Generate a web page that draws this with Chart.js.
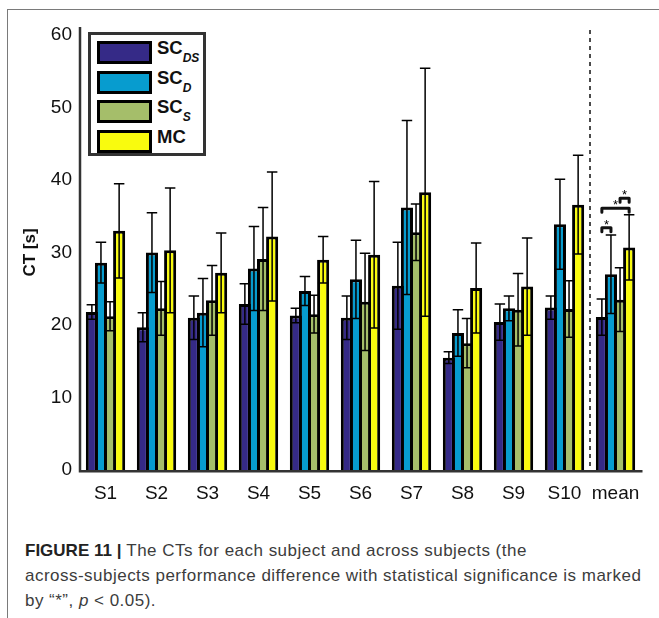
<!DOCTYPE html>
<html>
<head>
<meta charset="utf-8">
<script src="https://cdn.jsdelivr.net/npm/chart.js@4.4.1/dist/chart.umd.min.js"></script>
<style>
  html, body { margin: 0; padding: 0; background: #fff; }
  #wrap { position: relative; width: 659px; height: 618px; overflow: hidden; }
  #frame { position: absolute; left: 7px; top: 9px; width: 700px; height: 700px;
           border-left: 1.5px solid #7a7a7a; border-top: 1.5px solid #7a7a7a; }
  #chart { position: absolute; left: 0; top: 0; }
  #legend { position: absolute; left: 88px; top: 32px; width: 112px; height: 118px;
            border: 3px solid #333; background: #fff; }
  .row { position: absolute; left: 0; height: 23px; width: 112px; }
  .sw { position: absolute; left: 6px; top: 0; width: 49px; height: 17px; border: 3px solid #000; }
  .lab { position: absolute; left: 66px; top: -4px; line-height: 23px; white-space: nowrap;
         font: bold 18.5px "Liberation Sans", Arial, sans-serif; color: #111; }
  .lab sub { font: italic bold 12px "Liberation Sans", Arial, sans-serif; vertical-align: -8px; margin-left: 0; }
  #caption { position: absolute; left: 25px; top: 538px; white-space: nowrap;
             font: 17px "Liberation Sans", Arial, sans-serif; letter-spacing: 0.48px;
             line-height: 25px; color: #3c3c3c; }
  #caption b { color: #222; letter-spacing: 0; }
</style>
</head>
<body>
<div id="wrap">
  <div id="frame"></div>
  <canvas id="chart" width="659" height="520"></canvas>
  <div id="legend"></div>
  <div id="caption"><b>FIGURE 11 |</b> The CTs for each subject and across subjects (the<br>across-subjects performance difference with statistical significance is marked<br>by “*”, <i>p</i> &lt; 0.05).</div>
</div>
<script>
// Subjects plus the across-subject mean
const categories = ['S1', 'S2', 'S3', 'S4', 'S5', 'S6', 'S7', 'S8', 'S9', 'S10', 'mean'];

// Series names (base + subscript)
const seriesBase = ['SC', 'SC', 'SC', 'MC'];
const seriesSub  = ['DS', 'D', 'S', ''];

// Completion time (s): means
const ctSCDS = [21.8, 19.7, 21.0, 22.9, 21.3, 21.0, 25.4, 15.5, 20.4, 22.4, 21.1];
const ctSCD  = [28.6, 30.0, 21.7, 27.8, 24.7, 26.3, 36.2, 18.9, 22.3, 33.9, 27.0];
const ctSCS  = [21.2, 22.3, 23.4, 29.1, 21.5, 23.2, 32.8, 17.5, 22.1, 22.2, 23.5];
const ctMC   = [33.0, 30.3, 27.2, 32.2, 29.0, 29.7, 38.3, 25.1, 25.3, 36.6, 30.7];

// Completion time (s): standard deviations
const sdSCDS = [1.0, 2.0, 3.0, 2.8, 1.0, 3.0, 6.0, 0.8, 2.5, 1.6, 2.5];
const sdSCD  = [2.8, 5.5, 4.7, 5.8, 2.0, 5.4, 12.0, 3.2, 1.7, 6.2, 5.4];
const sdSCS  = [2.0, 3.7, 4.8, 7.1, 2.6, 6.7, 3.9, 3.4, 5.0, 3.9, 4.4];
const sdMC   = [6.5, 8.6, 5.5, 8.9, 3.2, 10.1, 17.1, 6.2, 6.7, 6.8, 4.5];

// Significant pairwise differences across subjects (series indices) and bracket heights (s)
const sigPairs  = [[0, 1], [0, 3], [2, 3]];
const sigLevels = [33.4, 36.1, 37.5];

const yTicks = [0, 10, 20, 30, 40, 50, 60];

const seriesColors = ['#352A87', '#079CCF', '#A5BE6A', '#F9FB0E'];
const means = [ctSCDS, ctSCD, ctSCS, ctMC];
const sds = [sdSCDS, sdSCD, sdSCS, sdMC];

const datasets = means.map((m, i) => ({
  label: seriesBase[i] + (seriesSub[i] ? '_' + seriesSub[i] : ''),
  data: m,
  sd: sds[i],
  backgroundColor: seriesColors[i],
  borderColor: '#000',
  borderWidth: 3,
  borderSkipped: 'start',
  categoryPercentage: 0.713,
  barPercentage: 1.33
}));

// HTML legend with subscripts
const legend = document.getElementById('legend');
seriesBase.forEach((b, i) => {
  const row = document.createElement('div');
  row.className = 'row';
  row.style.top = (6 + i * 29.5) + 'px';
  const sw = document.createElement('div');
  sw.className = 'sw';
  sw.style.background = seriesColors[i];
  const lab = document.createElement('div');
  lab.className = 'lab';
  lab.textContent = b;
  if (seriesSub[i]) {
    const s = document.createElement('sub');
    s.textContent = seriesSub[i];
    lab.appendChild(s);
  }
  row.appendChild(sw);
  row.appendChild(lab);
  legend.appendChild(row);
});

const overlay = {
  id: 'overlay',
  afterDatasetsDraw(chart) {
    const { ctx, chartArea: a, scales: { x, y } } = chart;
    ctx.save();
    // error bars (mean ± SD)
    ctx.strokeStyle = '#000';
    ctx.lineWidth = 1.5;
    chart.data.datasets.forEach((ds, di) => {
      const meta = chart.getDatasetMeta(di);
      meta.data.forEach((bar, j) => {
        const m = ds.data[j], s = ds.sd[j];
        const cx = bar.x;
        const half = bar.width / 2 - 0.8;
        const yTop = y.getPixelForValue(m + s);
        const yBot = y.getPixelForValue(m - s);
        ctx.beginPath();
        ctx.moveTo(cx, yTop); ctx.lineTo(cx, yBot);
        ctx.moveTo(cx - half, yTop); ctx.lineTo(cx + half, yTop);
        ctx.moveTo(cx - half, yBot); ctx.lineTo(cx + half, yBot);
        ctx.stroke();
      });
    });

    // separator before the across-subject mean
    const xSep = (x.getPixelForValue(categories.length - 2) + x.getPixelForValue(categories.length - 1)) / 2;
    ctx.setLineDash([4, 4]);
    ctx.lineWidth = 1.5;
    ctx.strokeStyle = '#111';
    ctx.beginPath();
    ctx.moveTo(xSep, 30); ctx.lineTo(xSep, a.bottom);
    ctx.stroke();
    ctx.setLineDash([]);

    // significance brackets on the mean group
    const last = categories.length - 1;
    ctx.lineWidth = 3;
    ctx.lineJoin = 'round';
    ctx.lineCap = 'round';
    ctx.fillStyle = '#000';
    ctx.font = '13px "Liberation Sans", Arial, sans-serif';
    ctx.textAlign = 'center';
    ctx.textBaseline = 'alphabetic';
    sigPairs.forEach(([p, q], k) => {
      const x1 = chart.getDatasetMeta(p).data[last].x;
      const x2 = chart.getDatasetMeta(q).data[last].x;
      const yb = y.getPixelForValue(sigLevels[k]);
      const leg = yb + 4;
      ctx.beginPath();
      ctx.moveTo(x1, leg); ctx.lineTo(x1, yb); ctx.lineTo(x2, yb); ctx.lineTo(x2, leg);
      ctx.stroke();
      ctx.fillText('*', (x1 + x2) / 2, yb + 1);
    });

    // axes
    ctx.lineCap = 'butt';
    ctx.strokeStyle = '#333';
    ctx.lineWidth = 2.5;
    ctx.beginPath();
    ctx.moveTo(a.left, 27); ctx.lineTo(a.left, a.bottom + 2.2);
    ctx.moveTo(a.left - 1.2, a.bottom + 1.2); ctx.lineTo(a.right + 1.5, a.bottom + 1.2);
    ctx.stroke();
    ctx.restore();
  }
};

new Chart(document.getElementById('chart'), {
  type: 'bar',
  data: { labels: categories, datasets },
  options: {
    responsive: false,
    animation: false,
    devicePixelRatio: 1,
    layout: { padding: { left: 0, top: 35, right: 18, bottom: 0 } },
    plugins: { legend: { display: false }, tooltip: { enabled: false } },
    scales: {
      x: {
        grid: { display: false, drawTicks: false },
        border: { display: false },
        ticks: { color: '#111', padding: 12, maxRotation: 0, minRotation: 0, autoSkip: false,
                 font: { family: 'Liberation Sans', size: 19 } },
        afterFit(s) { s.height = 50; }
      },
      y: {
        min: 0, max: 60,
        grid: { display: false, drawTicks: false },
        border: { display: false },
        afterBuildTicks(s) { s.ticks = yTicks.map(v => ({ value: v })); },
        ticks: { color: '#111', padding: 8, font: { family: 'Liberation Sans', size: 19 } },
        title: { display: true, text: 'CT [s]', color: '#111', padding: { top: 20 },
                 font: { family: 'Liberation Sans', size: 17, weight: 'bold' } },
        afterFit(s) { s.width = 80; }
      }
    }
  },
  plugins: [overlay]
});
</script>
</body>
</html>
